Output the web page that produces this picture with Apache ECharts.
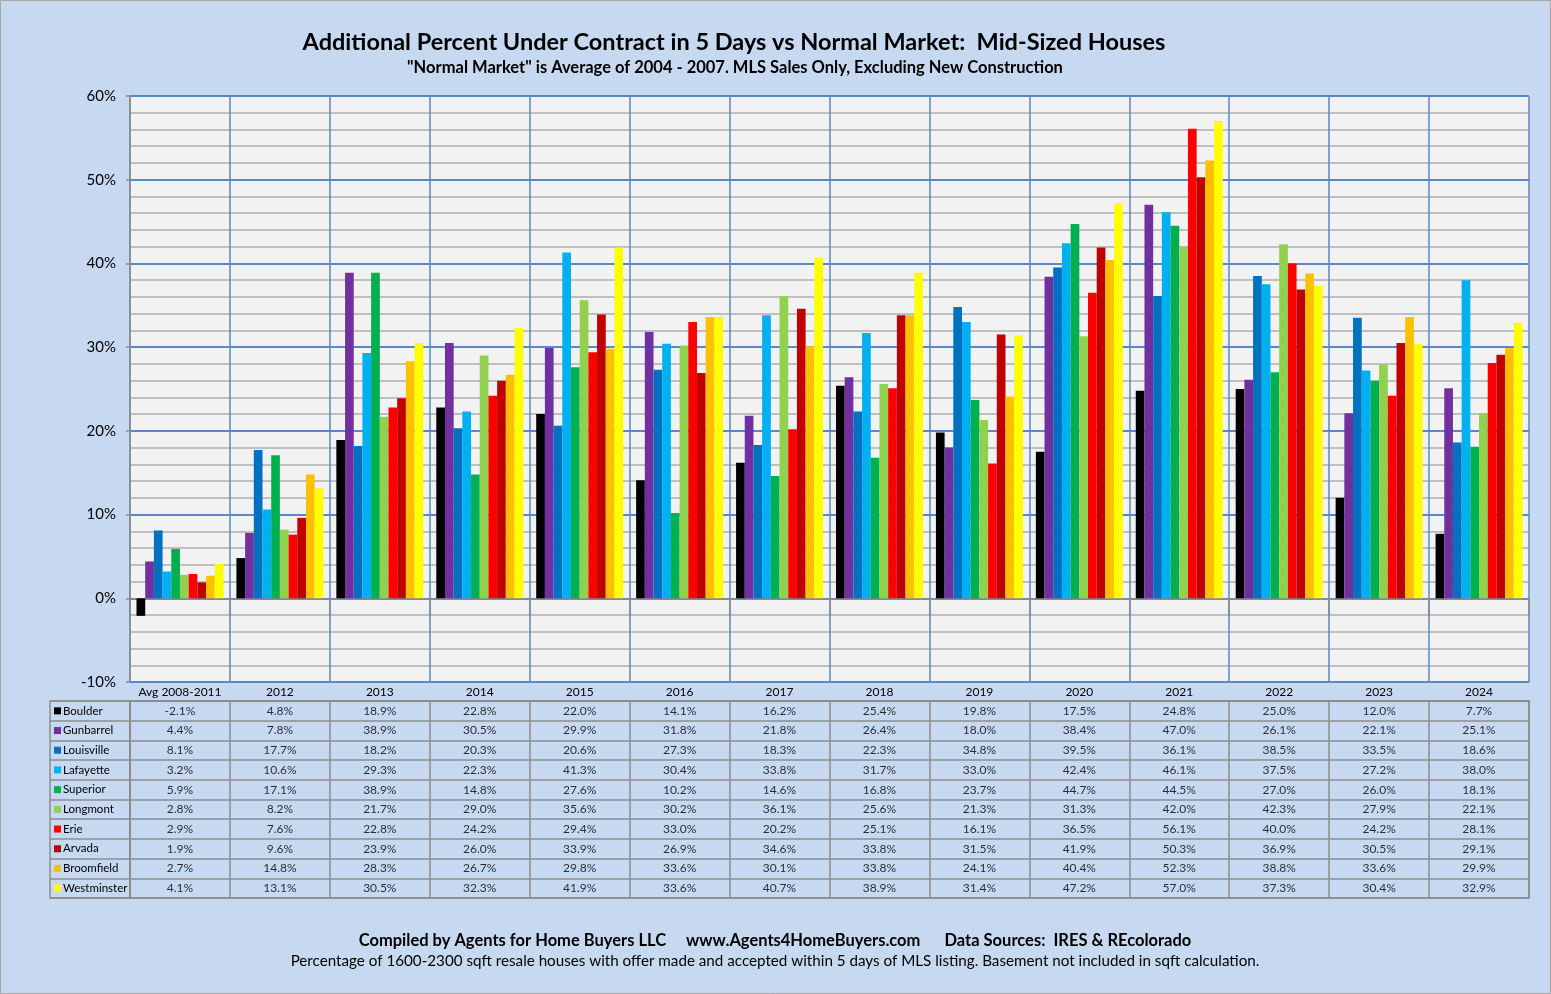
<!DOCTYPE html>
<html>
<head>
<meta charset="utf-8">
<script src="https://cdn.jsdelivr.net/npm/echarts@6/dist/echarts.min.js"></script>
<style>
html,body{margin:0;padding:0;background:#C6D9F1;}
#c{width:1551px;height:994px;}
</style>
</head>
<body>
<div id="c"></div>
<script>
const categories = ['Avg 2008-2011','2012','2013','2014','2015','2016','2017','2018','2019','2020','2021','2022','2023','2024'];
const seriesNames = ['Boulder','Gunbarrel','Louisville','Lafayette','Superior','Longmont','Erie','Arvada','Broomfield','Westminster'];
const seriesColors = ['#000000','#7030A0','#0070C0','#00B0F0','#00B050','#92D050','#FF0000','#C00000','#FFC000','#FFFF00'];

const boulder     = [-2.1, 4.8, 18.9, 22.8, 22.0, 14.1, 16.2, 25.4, 19.8, 17.5, 24.8, 25.0, 12.0, 7.7];
const gunbarrel   = [4.4, 7.8, 38.9, 30.5, 29.9, 31.8, 21.8, 26.4, 18.0, 38.4, 47.0, 26.1, 22.1, 25.1];
const louisville  = [8.1, 17.7, 18.2, 20.3, 20.6, 27.3, 18.3, 22.3, 34.8, 39.5, 36.1, 38.5, 33.5, 18.6];
const lafayette   = [3.2, 10.6, 29.3, 22.3, 41.3, 30.4, 33.8, 31.7, 33.0, 42.4, 46.1, 37.5, 27.2, 38.0];
const superior    = [5.9, 17.1, 38.9, 14.8, 27.6, 10.2, 14.6, 16.8, 23.7, 44.7, 44.5, 27.0, 26.0, 18.1];
const longmont    = [2.8, 8.2, 21.7, 29.0, 35.6, 30.2, 36.1, 25.6, 21.3, 31.3, 42.0, 42.3, 27.9, 22.1];
const erie        = [2.9, 7.6, 22.8, 24.2, 29.4, 33.0, 20.2, 25.1, 16.1, 36.5, 56.1, 40.0, 24.2, 28.1];
const arvada      = [1.9, 9.6, 23.9, 26.0, 33.9, 26.9, 34.6, 33.8, 31.5, 41.9, 50.3, 36.9, 30.5, 29.1];
const broomfield  = [2.7, 14.8, 28.3, 26.7, 29.8, 33.6, 30.1, 33.8, 24.1, 40.4, 52.3, 38.8, 33.6, 29.9];
const westminster = [4.1, 13.1, 30.5, 32.3, 41.9, 33.6, 40.7, 38.9, 31.4, 47.2, 57.0, 37.3, 30.4, 32.9];

const allValues = [boulder, gunbarrel, louisville, lafayette, superior, longmont, erie, arvada, broomfield, westminster];
const yTicks = { min: -10, max: 60, interval: 10 };

const titleText = 'Additional Percent Under Contract in 5 Days vs Normal Market:  Mid-Sized Houses';
const subtitleText = '"Normal Market" is Average of 2004 - 2007. MLS Sales Only, Excluding New Construction';
const footer1 = 'Compiled by Agents for Home Buyers LLC     www.Agents4HomeBuyers.com      Data Sources:  IRES & REcolorado';
const footer2 = 'Percentage of 1600-2300 sqft resale houses with offer made and accepted within 5 days of MLS listing. Basement not included in sqft calculation.';

const FONT = 'Lato, "Open Sans", sans-serif';
const GRID_BLUE = '#5B87C5';
const GRID_GRAY = '#BFBFBF';
const TABLE_GRAY = '#8C8C8C';

const chart = echarts.init(document.getElementById('c'), null, { renderer: 'canvas' });

const rich = {};
seriesColors.forEach((c, i) => {
  rich['m' + i] = { width: 7, height: 7, backgroundColor: c };
  rich['t' + i] = { fontSize: 11.5, color: '#000', fontFamily: FONT, padding: [0, 0, 0, 2] };
});

const barSeries = seriesNames.map((name, i) => ({
  name: name,
  type: 'bar',
  xAxisIndex: 0,
  yAxisIndex: 0,
  data: allValues[i],
  barGap: '0%',
  barCategoryGap: '13%',
  itemStyle: { color: seriesColors[i] },
  silent: true
}));

const cellData = [];
allValues.forEach((arr, si) => {
  arr.forEach((v, ci) => cellData.push([ci, si, v]));
});

const option = {
  backgroundColor: '#C6D9F1',
  animation: false,
  textStyle: { fontFamily: FONT },
  grid: [
    { left: 130, top: 96, width: 1399, height: 586, show: true, backgroundColor: '#F2F2F2', borderWidth: 0 },
    { left: 130, top: 701, width: 1399, height: 197, show: true, backgroundColor: '#C6D9F1', borderColor: TABLE_GRAY, borderWidth: 1.5 },
    { left: 50, top: 701, width: 80, height: 197, show: true, backgroundColor: '#C6D9F1', borderColor: TABLE_GRAY, borderWidth: 1.5 }
  ],
  xAxis: [
    {
      type: 'category', gridIndex: 0, data: categories,
      axisLine: { show: true, lineStyle: { color: TABLE_GRAY, width: 1.5 } },
      axisTick: { show: true, interval: 0, length: 19, lineStyle: { color: TABLE_GRAY, width: 1.5 } },
      axisLabel: { interval: 0, color: '#000', fontSize: 12, fontFamily: FONT, margin: 4 },
      splitLine: { show: true, interval: 0, lineStyle: { color: GRID_BLUE, width: 1.5 } }
    },
    {
      type: 'category', gridIndex: 1, data: categories, position: 'top',
      axisLine: { show: true, lineStyle: { color: TABLE_GRAY, width: 1.5 } },
      axisTick: { show: false },
      axisLabel: { show: false },
      splitLine: { show: true, interval: 0, lineStyle: { color: TABLE_GRAY, width: 1.5 } }
    },
    { type: 'value', gridIndex: 2, show: false }
  ],
  yAxis: [
    {
      type: 'value', gridIndex: 0, min: yTicks.min, max: yTicks.max, interval: yTicks.interval,
      axisLine: { show: true, lineStyle: { color: TABLE_GRAY, width: 1.5 } },
      axisTick: { show: true, length: 4, lineStyle: { color: TABLE_GRAY, width: 1.5 } },
      axisLabel: { formatter: '{value}%', color: '#000', fontSize: 15, fontFamily: FONT, margin: 14 },
      splitLine: { show: true, lineStyle: { color: GRID_BLUE, width: 2 } },
      minorTick: { show: false, splitNumber: 5 },
      minorSplitLine: { show: true, lineStyle: { color: GRID_GRAY, width: 2 } }
    },
    {
      type: 'category', gridIndex: 1, data: seriesNames, inverse: true,
      axisLine: { show: true, lineStyle: { color: TABLE_GRAY, width: 1.5 } },
      axisTick: { show: false },
      axisLabel: { show: false },
      splitLine: { show: true, interval: 0, lineStyle: { color: TABLE_GRAY, width: 1.5 } }
    },
    {
      type: 'category', gridIndex: 2, data: seriesNames, inverse: true,
      axisLine: { show: false },
      axisTick: { show: false },
      axisLabel: {
        show: true, inside: true, interval: 0, margin: 4, align: 'left',
        formatter: (v, i) => '{m' + i + '|}{t' + i + '|' + v + '}',
        rich: rich
      },
      splitLine: { show: true, interval: 0, lineStyle: { color: TABLE_GRAY, width: 1.5 } }
    }
  ],
  series: barSeries.concat([{
    type: 'scatter',
    xAxisIndex: 1,
    yAxisIndex: 1,
    data: cellData,
    symbolSize: 1,
    itemStyle: { color: 'rgba(0,0,0,0)' },
    silent: true,
    label: {
      show: true, position: 'inside',
      formatter: p => p.value[2].toFixed(1) + '%',
      color: '#000', fontSize: 12, fontFamily: FONT
    }
  }]),
  graphic: [
    { type: 'rect', shape: { x: 0.5, y: 0.5, width: 1550, height: 993 }, style: { fill: 'none', stroke: '#A6A6A6', lineWidth: 1 }, silent: true },
    { type: 'text', x: 734, y: 42, style: { text: titleText, textAlign: 'center', textVerticalAlign: 'middle', font: 'bold 23.5px ' + FONT, fill: '#000' } },
    { type: 'text', x: 735, y: 68, style: { text: subtitleText, textAlign: 'center', textVerticalAlign: 'middle', font: 'bold 16.5px ' + FONT, fill: '#000' } },
    { type: 'text', x: 775, y: 941, style: { text: footer1, textAlign: 'center', textVerticalAlign: 'middle', font: 'bold 16.5px ' + FONT, fill: '#000' } },
    { type: 'text', x: 775, y: 961, style: { text: footer2, textAlign: 'center', textVerticalAlign: 'middle', font: '15.2px ' + FONT, fill: '#000' } }
  ]
};

chart.setOption(option);
</script>
</body>
</html>
